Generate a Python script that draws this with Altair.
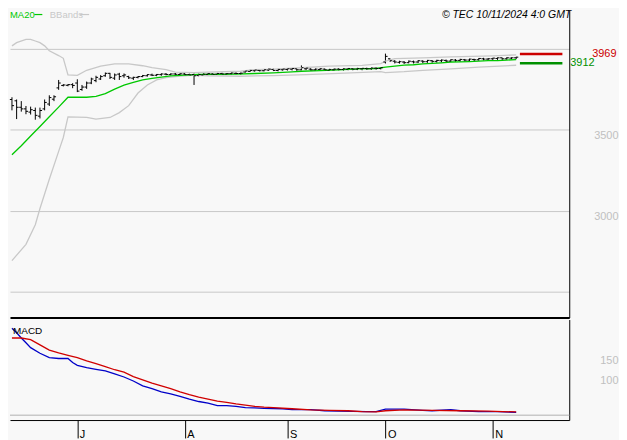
import altair as alt
import pandas as pd

# ------------------------------------------------------------------ data
dates = pd.bdate_range("2024-06-11", "2024-11-08")  # trading days shown

opens = [3688, 3680, 3640, 3630, 3610, 3620, 3585, 3630, 3660, 3690,
         3760, 3775, 3776, 3780, 3790, 3750, 3765, 3790, 3805, 3815,
         3835, 3850, 3820, 3845, 3835, 3830, 3820, 3825, 3830, 3835,
         3840, 3838, 3842, 3845, 3842, 3846, 3843, 3846, 3842, 3842,
         3836, 3840, 3844, 3846, 3845, 3848, 3846, 3848, 3850, 3849,
         3858, 3862, 3866, 3868, 3866, 3870, 3874, 3868, 3872, 3874,
         3876, 3878, 3872, 3878, 3876, 3872, 3874, 3876, 3870, 3872,
         3876, 3874, 3876, 3878, 3876, 3878, 3880, 3878, 3882, 3880,
         3920, 3940, 3925, 3918, 3920, 3916, 3922, 3920, 3926, 3922,
         3928, 3924, 3928, 3930, 3926, 3932, 3930, 3934, 3932, 3936,
         3934, 3940, 3938, 3940, 3942, 3946, 3940, 3944, 3946]
highs = [3702, 3688, 3678, 3648, 3644, 3638, 3638, 3688, 3714, 3714,
         3809, 3783, 3783, 3789, 3813, 3778, 3799, 3823, 3835, 3839,
         3855, 3853, 3849, 3853, 3849, 3835, 3829, 3833, 3840, 3845,
         3848, 3846, 3850, 3852, 3850, 3852, 3851, 3853, 3848, 3849,
         3848, 3850, 3852, 3851, 3853, 3854, 3852, 3855, 3856, 3855,
         3868, 3872, 3875, 3874, 3877, 3880, 3879, 3878, 3880, 3881,
         3882, 3880, 3899, 3884, 3882, 3880, 3882, 3880, 3878, 3880,
         3882, 3881, 3883, 3882, 3884, 3883, 3885, 3886, 3887, 3888,
         3972, 3941, 3932, 3928, 3926, 3930, 3929, 3932, 3931, 3933,
         3932, 3934, 3936, 3935, 3937, 3938, 3940, 3939, 3941, 3940,
         3945, 3946, 3944, 3946, 3948, 3947, 3950, 3949, 3952]
lows = [3621, 3567, 3613, 3597, 3595, 3563, 3571, 3621, 3648, 3678,
        3748, 3769, 3770, 3758, 3734, 3742, 3754, 3783, 3795, 3809,
        3829, 3815, 3809, 3809, 3823, 3815, 3809, 3819, 3826, 3830,
        3833, 3832, 3835, 3838, 3838, 3840, 3839, 3840, 3835, 3778,
        3832, 3836, 3838, 3840, 3841, 3842, 3840, 3843, 3844, 3842,
        3855, 3858, 3860, 3862, 3862, 3865, 3864, 3862, 3866, 3867,
        3868, 3866, 3869, 3870, 3866, 3866, 3868, 3866, 3865, 3866,
        3868, 3867, 3869, 3869, 3870, 3869, 3871, 3872, 3873, 3874,
        3911, 3921, 3911, 3910, 3908, 3912, 3911, 3914, 3913, 3915,
        3915, 3916, 3918, 3918, 3920, 3921, 3922, 3923, 3924, 3926,
        3928, 3930, 3930, 3931, 3933, 3933, 3934, 3936, 3938]
closes = [3650, 3640, 3630, 3615, 3625, 3590, 3620, 3670, 3700, 3705,
          3790, 3778, 3780, 3775, 3740, 3765, 3790, 3815, 3825, 3830,
          3850, 3825, 3840, 3830, 3840, 3822, 3825, 3830, 3836, 3842,
          3838, 3843, 3846, 3843, 3846, 3844, 3847, 3842, 3840, 3835,
          3842, 3845, 3848, 3844, 3849, 3846, 3848, 3852, 3849, 3851,
          3864, 3868, 3870, 3866, 3872, 3876, 3868, 3874, 3876, 3878,
          3880, 3872, 3885, 3882, 3872, 3876, 3878, 3872, 3874, 3876,
          3874, 3878, 3880, 3876, 3880, 3881, 3878, 3883, 3880, 3885,
          3955, 3928, 3920, 3922, 3916, 3925, 3920, 3928, 3922, 3930,
          3924, 3930, 3932, 3926, 3934, 3930, 3936, 3932, 3938, 3934,
          3942, 3938, 3940, 3944, 3946, 3940, 3946, 3946, 3950]

ma_idx = [0, 2, 4, 6, 8, 10, 12, 14, 16, 18, 20, 22, 24, 26, 28, 30, 32, 34,
          36, 38, 40, 44, 48, 52, 56, 60, 62, 66, 70, 74, 78, 80, 82, 84, 86,
          88, 90, 92, 94, 96, 98, 100, 102, 104, 106, 108]
ma_val = [3346, 3402, 3462, 3521, 3581, 3641, 3702, 3702, 3702, 3708, 3724,
          3752, 3777, 3794, 3810, 3819, 3826, 3834, 3838, 3841, 3843, 3843,
          3845, 3849, 3853, 3859, 3863, 3867, 3872, 3877, 3880, 3889, 3895,
          3901, 3903, 3908, 3911, 3915, 3920, 3921, 3923, 3926, 3928, 3929,
          3932, 3935]

bbu_idx = [0, 1, 3, 4, 5, 6, 7, 8, 10, 11, 12, 14, 16, 19, 22, 25, 28, 30,
           33, 35, 39, 42, 49, 52, 56, 63, 68, 75, 79, 80, 82, 88, 94, 103, 108]
bbu_val = [4020, 4040, 4060, 4060, 4050, 4040, 4020, 3990, 3960, 3943, 3840,
           3837, 3869, 3894, 3909, 3909, 3897, 3885, 3873, 3858, 3855, 3858,
           3863, 3873, 3876, 3886, 3895, 3899, 3910, 3925, 3941, 3945, 3952,
           3958, 3964]

bbl_idx = [0, 3, 5, 6, 8, 10, 11, 12, 16, 18, 21, 23, 25, 27, 29, 31, 33, 35,
           39, 42, 49, 56, 63, 70, 79, 80, 84, 88, 94, 100, 108]
bbl_val = [2691, 2792, 2913, 3014, 3195, 3367, 3453, 3580, 3577, 3567, 3577,
           3607, 3650, 3728, 3778, 3809, 3823, 3829, 3839, 3835, 3832, 3836,
           3842, 3850, 3860, 3855, 3860, 3868, 3878, 3888, 3900]

macd_idx = [0, 1, 2, 3, 4, 6, 8, 10, 12, 13, 14, 16, 18, 20, 22, 24, 26, 28,
            30, 32, 34, 36, 38, 40, 42, 44, 46, 48, 50, 52, 54, 58, 60, 64, 67,
            70, 76, 78, 80, 84, 88, 90, 94, 96, 100, 104, 108]
macd_val = [216, 205, 192, 180, 168, 154, 143, 141, 141, 131, 124, 118, 114,
            110, 103, 95, 85, 73, 66, 58, 53, 47, 40, 34, 30, 24, 24, 22, 19,
            18, 17, 16, 14, 14, 11, 10, 9, 9, 15, 15, 12, 11, 14, 11, 9, 9, 7]

sig_idx = [0, 2, 4, 6, 8, 10, 12, 14, 16, 18, 20, 22, 24, 26, 28, 30, 32, 34,
           36, 38, 40, 42, 44, 46, 48, 50, 52, 54, 56, 60, 64, 68, 72, 75, 78,
           80, 84, 90, 96, 102, 108]
sig_val = [192, 192, 188, 175, 162, 155, 149, 143, 135, 128, 121, 113, 107,
           96, 88, 80, 73, 66, 58, 51, 45, 40, 35, 32, 28, 25, 22, 20, 19, 16,
           13, 12, 11, 9, 8, 11, 13, 12, 11, 10, 8]

month_letters = ["J", "A", "S", "O", "N"]
last_value = 3969
ma_marker = 3912
price_ticks = [4000, 3500, 3000, 2500]
macd_ticks = [150, 100]
stamp = "© TEC 10/11/2024 4:0 GMT"

# ------------------------------------------------------------------ layout / style
n = len(opens)
month_idx = [k for k in range(1, n) if dates[k].month != dates[k - 1].month]
month_expr = " : ".join(
    f"datum.value == {k} ? '{m}'" for k, m in zip(month_idx, month_letters)
) + " : ''"

SX = 619 / 627
SY = 432 / 440
W = round(569 * SX)
H1 = round(315 * SY)
H2 = round(103 * SY)

FONT = "Liberation Sans"
GRID = "#c8c8c8"
LABEL = "#c0c0c0"
MA_GREEN = "#00c800"
MK_RED = "#cc0000"
MK_GREEN = "#009000"
BLUE = "#0000c8"
RED = "#d00000"

xs = alt.Scale(domain=[-2 / 4.75, 567 / 4.75], nice=False, zero=False)
ys = alt.Scale(domain=[2339, 4241.5], nice=False, zero=False)
ms = alt.Scale(domain=[-12.1, 237.9], nice=False, zero=False)

# the 4000 label sits under the red last-value label, as in the original
x_top_axis = alt.Axis(orient="bottom", labels=False, ticks=False, grid=False,
                      domainColor="black", domainWidth=2, title=None)
y_top_axis = alt.Axis(orient="right", values=price_ticks, format="d",
                      labelExpr="(datum.value == 2500 || datum.value == 4000) ? '' : datum.label",
                      grid=True, gridColor=GRID, gridWidth=1,
                      domainColor="black", domainWidth=1, ticks=False,
                      labelColor=LABEL, labelFont=FONT, labelFontSize=11,
                      labelAlign="right", labelBaseline="top", labelPadding=49,
                      title=None)
x_bot_axis = alt.Axis(orient="bottom", values=month_idx, labelExpr=month_expr,
                      tickSize=18, tickColor="black", tickWidth=1,
                      domainColor="black", domainWidth=1, grid=False,
                      labelAlign="left", labelBaseline="alphabetic",
                      labelPadding=0, labelOffset=2, labelColor="black",
                      labelFont=FONT, labelFontSize=11, labelFlush=False,
                      title=None)
y_bot_axis = alt.Axis(orient="right", values=macd_ticks, format="d",
                      grid=False, ticks=False, domainColor="black",
                      domainWidth=1, labelColor=LABEL, labelFont=FONT,
                      labelFontSize=11, labelAlign="right",
                      labelBaseline="top", labelPadding=49, title=None)


def XT(f):
    return alt.X(f, scale=xs, axis=x_top_axis)


def YT(f):
    return alt.Y(f, scale=ys, axis=y_top_axis)


def XB(f):
    return alt.X(f, scale=xs, axis=x_bot_axis)


def YB(f):
    return alt.Y(f, scale=ms, axis=y_bot_axis)


bars = pd.DataFrame({"i": list(range(n)), "open": opens, "high": highs,
                     "low": lows, "close": closes})
one = pd.DataFrame({"a": [0]})

# ------------------------------------------------------------------ top panel
bbu = alt.Chart(pd.DataFrame({"i": bbu_idx, "v": bbu_val})).mark_line(
    color=GRID, strokeWidth=1.3).encode(x=XT("i:Q"), y=YT("v:Q"))
bbl = alt.Chart(pd.DataFrame({"i": bbl_idx, "v": bbl_val})).mark_line(
    color=GRID, strokeWidth=1.3).encode(x=XT("i:Q"), y=YT("v:Q"))
ma = alt.Chart(pd.DataFrame({"i": ma_idx, "v": ma_val})).mark_line(
    color=MA_GREEN, strokeWidth=1.3).encode(x=XT("i:Q"), y=YT("v:Q"))

hl = alt.Chart(bars).mark_rule(color="black", strokeWidth=1).encode(
    x=XT("i:Q"), y=YT("low:Q"), y2="high:Q")
op = alt.Chart(bars).transform_calculate(xo="datum.i - 0.45").mark_rule(
    color="black", strokeWidth=1).encode(x=XT("xo:Q"), x2="i:Q", y=YT("open:Q"))
cl = alt.Chart(bars).transform_calculate(xc="datum.i + 0.45").mark_rule(
    color="black", strokeWidth=1).encode(x=XT("i:Q"), x2="xc:Q", y=YT("close:Q"))

mk_df = pd.DataFrame({"v": [last_value]})
mk2_df = pd.DataFrame({"v": [ma_marker]})
red_mk = alt.Chart(mk_df).transform_calculate(
    x0=f"{n} - 0.2", x1=f"{n} + 8.9").mark_rule(
    color=MK_RED, strokeWidth=2.5).encode(x=XT("x0:Q"), x2="x1:Q", y=YT("v:Q"))
green_mk = alt.Chart(mk2_df).transform_calculate(
    x0=f"{n} - 0.2", x1=f"{n} + 8.9").mark_rule(
    color=MK_GREEN, strokeWidth=2.5).encode(x=XT("x0:Q"), x2="x1:Q", y=YT("v:Q"))
red_txt = alt.Chart(mk_df).mark_text(
    align="left", baseline="middle", color=MK_RED, font=FONT, fontSize=11,
    dy=-0.5).encode(x=alt.value(585), y=YT("v:Q"), text=alt.Text("v:Q", format="d"))
green_txt = alt.Chart(mk2_df).mark_text(
    align="left", baseline="middle", color=MK_GREEN, font=FONT, fontSize=11,
    dy=-0.5).encode(x=alt.value(563), y=YT("v:Q"), text=alt.Text("v:Q", format="d"))

leg_ma = alt.Chart(one).mark_text(
    align="left", baseline="top", color=MA_GREEN, font=FONT, fontSize=9.5).encode(
    x=alt.value(0), y=alt.value(0), text=alt.value("MA20"))
leg_ma_line = alt.Chart(one).mark_rule(color=MA_GREEN, strokeWidth=1.2).encode(
    x=alt.value(24.5), x2=alt.value(32.5), y=alt.value(4.5))
leg_bb = alt.Chart(one).mark_text(
    align="left", baseline="top", color=GRID, font=FONT, fontSize=9.5).encode(
    x=alt.value(40), y=alt.value(0), text=alt.value("BBands"))
leg_bb_line = alt.Chart(one).mark_rule(color=GRID, strokeWidth=1.2).encode(
    x=alt.value(70.5), x2=alt.value(79.5), y=alt.value(4.5))
stamp_txt = alt.Chart(one).mark_text(
    align="right", baseline="top", color="black", font=FONT, fontSize=10.5,
    fontStyle="italic").encode(x=alt.value(564), y=alt.value(0),
                               text=alt.value(stamp))

top = alt.layer(hl, bbu, bbl, ma, op, cl, red_mk, green_mk, red_txt,
                green_txt, leg_ma, leg_ma_line, leg_bb, leg_bb_line,
                stamp_txt).properties(width=W, height=H1)

# ------------------------------------------------------------------ MACD panel
zero = alt.Chart(pd.DataFrame({"z": [0]})).mark_rule(
    color=GRID, strokeWidth=1.5).encode(y=YB("z:Q"))
macd = alt.Chart(pd.DataFrame({"i": macd_idx, "v": macd_val})).mark_line(
    color=BLUE, strokeWidth=1.3).encode(x=XB("i:Q"), y=YB("v:Q"))
sig = alt.Chart(pd.DataFrame({"i": sig_idx, "v": sig_val})).mark_line(
    color=RED, strokeWidth=1.3).encode(x=XB("i:Q"), y=YB("v:Q"))
macd_lbl = alt.Chart(one).mark_text(
    align="left", baseline="top", color="black", font=FONT, fontSize=10).encode(
    x=alt.value(3), y=alt.value(7), text=alt.value("MACD"))

bottom = alt.layer(zero, macd, sig, macd_lbl).properties(width=W, height=H2)

chart = alt.vconcat(top, bottom, spacing=0).properties(
    padding=0, background="#f8f8f8"
).configure_view(stroke="transparent")

chart.save("out.html", embed_options={"renderer": "svg", "actions": False})
